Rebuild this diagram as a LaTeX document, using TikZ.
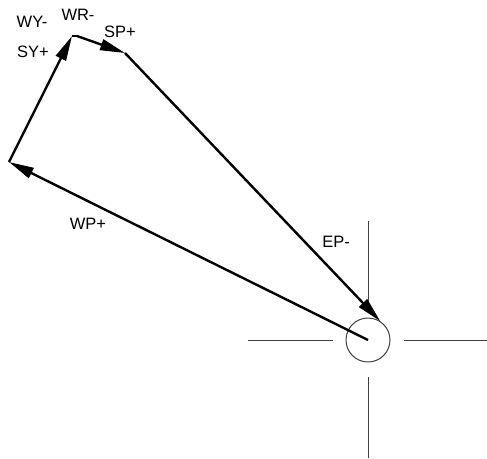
\documentclass[tikz,border=0pt]{standalone}
\usepackage{fontspec}
\setmainfont{Liberation Sans}
\usetikzlibrary{arrows.meta}
\begin{document}
\begin{tikzpicture}[x=1pt,y=-1pt,
  vec/.style={line width=2.4pt,-{Triangle[length=25pt,width=11pt]}},
  seg/.style={line width=2.4pt},
  cross/.style={line width=1pt,draw=black!75},
  lbl/.style={font=\fontsize{16.5}{18}\selectfont,inner sep=0pt,text=black}]
\useasboundingbox (0,0) rectangle (487,458);
% points
\coordinate (C) at (368,340);
\coordinate (A) at (9,162);
\coordinate (B) at (72,36);
\coordinate (D) at (77,36);
\coordinate (E) at (125,53);
% crosshair and circle
\node[circle,draw=black!75,line width=1pt,minimum size=44pt,inner sep=0pt] (ring) at (C) {};
\coordinate (t1) at (368,221); \coordinate (t2) at (368,303);
\coordinate (b1) at (368,377); \coordinate (b2) at (368,458);
\coordinate (l1) at (248,340); \coordinate (l2) at (333,340);
\coordinate (r1) at (404,340); \coordinate (r2) at (487,340);
\draw[cross] (t1) -- (t2);
\draw[cross] (b1) -- (b2);
\draw[cross] (l1) -- (l2);
\draw[cross] (r1) -- (r2);
% vectors
\draw[vec] (C) -- (A);
\draw[vec] (A) -- (B);
\draw[seg] (B) -- (D);
\draw[vec] (D) -- (E);
\draw[vec] (E) -- (ring.57);
% labels
\node[lbl] (wy) at (32,22) {WY-};
\node[lbl] (wr) at (78,15) {WR-};
\node[lbl] (sp) at (120,32) {SP+};
\node[lbl] (sy) at (33,52) {SY+};
\node[lbl] (wp) at (88,224) {WP+};
\node[lbl] (ep) at (336,242) {EP-};
\end{tikzpicture}
\end{document}
